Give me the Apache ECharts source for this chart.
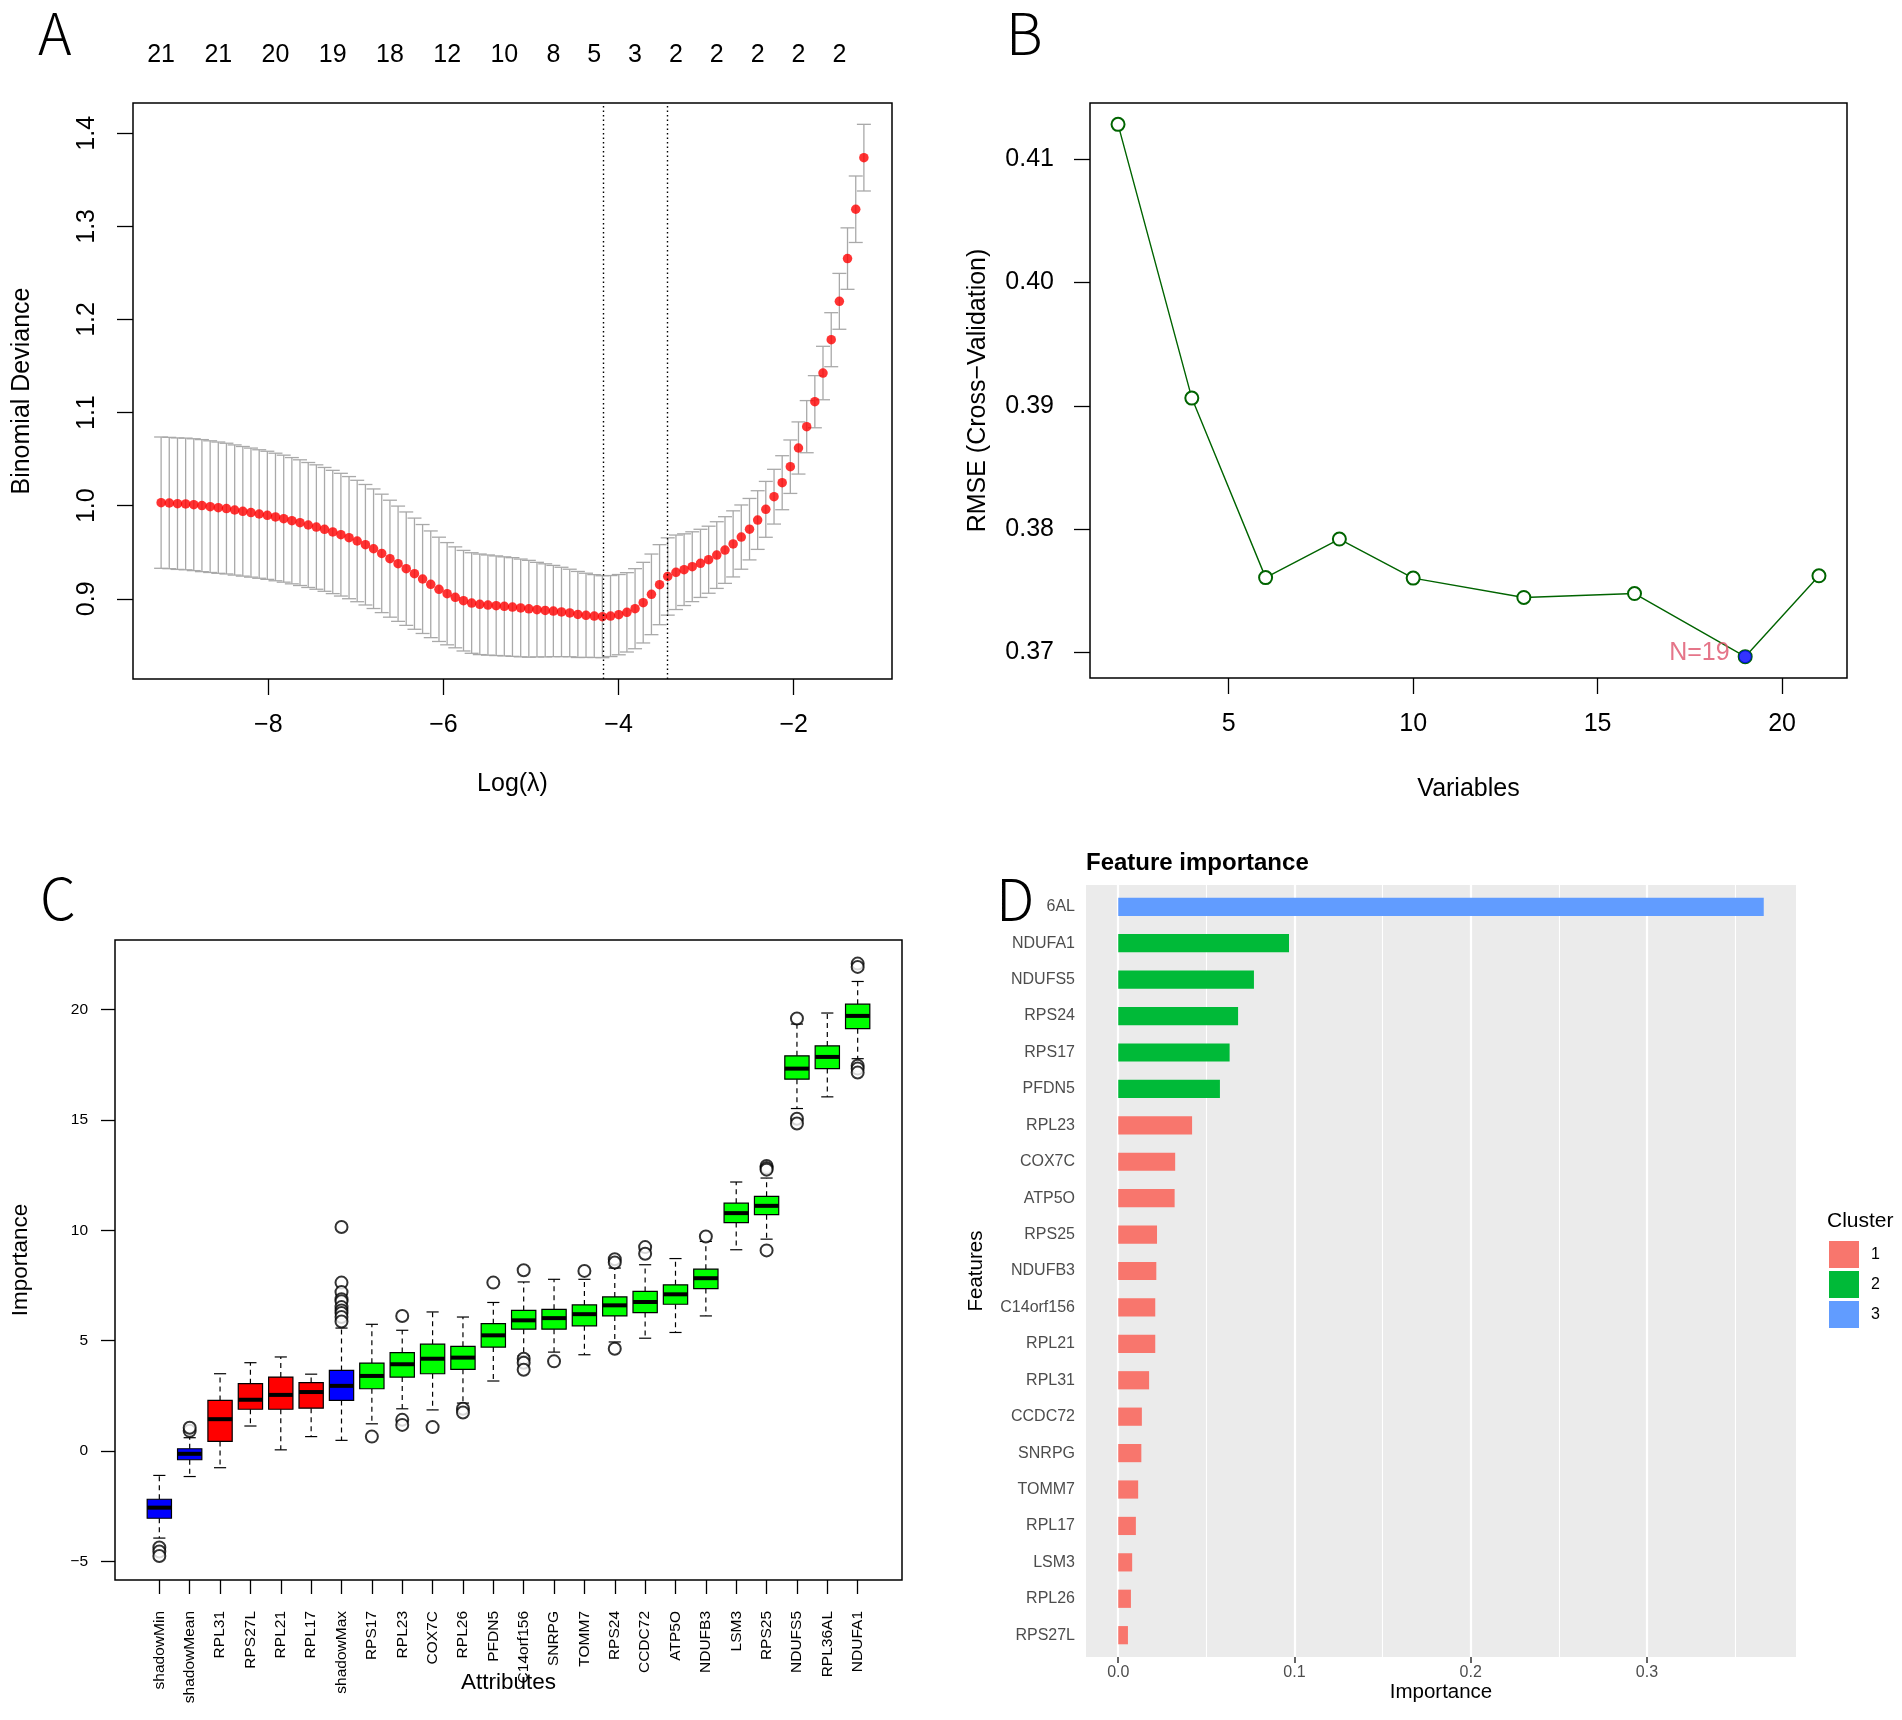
<!DOCTYPE html>
<html>
<head>
<meta charset="utf-8">
<title>Feature selection panels</title>
<script src="https://cdn.jsdelivr.net/npm/echarts@6.0.0/dist/echarts.min.js"></script>
<style>
  html, body { margin: 0; padding: 0; background: #fff; }
  #chart { width: 1902px; height: 1720px; }
</style>
</head>
<body>
<div id="chart"></div>
<script>
// ---- A: lasso cross-validation curve ----
var logLambda = [-9.224, -9.131, -9.037, -8.944, -8.851, -8.758, -8.664, -8.571, -8.478, -8.384,
  -8.291, -8.198, -8.104, -8.011, -7.918, -7.824, -7.731, -7.638, -7.544, -7.451,
  -7.358, -7.264, -7.171, -7.078, -6.985, -6.891, -6.798, -6.705, -6.611, -6.518,
  -6.425, -6.331, -6.238, -6.145, -6.051, -5.958, -5.865, -5.771, -5.678, -5.585,
  -5.492, -5.398, -5.305, -5.212, -5.118, -5.025, -4.932, -4.838, -4.745, -4.652,
  -4.558, -4.465, -4.372, -4.278, -4.185, -4.092, -3.998, -3.905, -3.812, -3.719,
  -3.625, -3.532, -3.439, -3.345, -3.252, -3.159, -3.065, -2.972, -2.879, -2.785,
  -2.692, -2.599, -2.505, -2.412, -2.319, -2.225, -2.132, -2.039, -1.946, -1.852,
  -1.759, -1.666, -1.572, -1.479, -1.386, -1.292, -1.199];
var cvMean = [1.0033, 1.0029, 1.0022, 1.0019, 1.0011, 1.0001, 0.9990, 0.9979, 0.9969, 0.9954,
  0.9940, 0.9926, 0.9911, 0.9897, 0.9879, 0.9861, 0.9839, 0.9818, 0.9793, 0.9771,
  0.9746, 0.9718, 0.9689, 0.9657, 0.9621, 0.9581, 0.9538, 0.9488, 0.9431, 0.9377,
  0.9324, 0.9270, 0.9213, 0.9156, 0.9102, 0.9055, 0.9016, 0.8980, 0.8955, 0.8941,
  0.8933, 0.8926, 0.8919, 0.8912, 0.8902, 0.8893, 0.8884, 0.8876, 0.8869, 0.8859,
  0.8848, 0.8832, 0.8823, 0.8815, 0.8808, 0.8815, 0.8830, 0.8855, 0.8894, 0.8959,
  0.9048, 0.9152, 0.9240, 0.9285, 0.9313, 0.9345, 0.9381, 0.9420, 0.9470, 0.9524,
  0.9590, 0.9663, 0.9748, 0.9846, 0.9961, 1.0097, 1.0247, 1.0419, 1.0620, 1.0849,
  1.1117, 1.1425, 1.1783, 1.2195, 1.2654, 1.3184, 1.3738];
var cvSd = [0.0705, 0.0705, 0.0706, 0.0707, 0.0708, 0.0709, 0.0707, 0.0705, 0.0702, 0.0699,
  0.0696, 0.0693, 0.0690, 0.0688, 0.0685, 0.0682, 0.0678, 0.0675, 0.0671, 0.0668,
  0.0665, 0.0662, 0.0659, 0.0656, 0.0652, 0.0647, 0.0642, 0.0636, 0.0628, 0.0619,
  0.0609, 0.0597, 0.0585, 0.0573, 0.0560, 0.0549, 0.0542, 0.0540, 0.0540, 0.0540,
  0.0538, 0.0535, 0.0532, 0.0530, 0.0525, 0.0520, 0.0508, 0.0500, 0.0490, 0.0480,
  0.0470, 0.0462, 0.0452, 0.0445, 0.0440, 0.0435, 0.0431, 0.0426, 0.0430, 0.0433,
  0.0433, 0.0430, 0.0415, 0.0400, 0.0385, 0.0375, 0.0366, 0.0360, 0.0358, 0.0358,
  0.0355, 0.0345, 0.0330, 0.0315, 0.0300, 0.0294, 0.0290, 0.0287, 0.0280, 0.0280,
  0.0280, 0.0287, 0.0290, 0.0300, 0.0330, 0.0357, 0.0358];
var nzAt = [-9.224, -8.571, -7.918, -7.264, -6.611, -5.958, -5.305, -4.745, -4.278, -3.812,
  -3.345, -2.879, -2.412, -1.946, -1.479];
var nzLabels = ['21', '21', '20', '19', '18', '12', '10', '8', '5', '3', '2', '2', '2', '2', '2'];
var lambdaMin = -4.185;
var lambda1se = -3.439;
var devTicks = [0.9, 1.0, 1.1, 1.2, 1.3, 1.4];
var lamTicks = [-8, -6, -4, -2];

// ---- B: recursive feature elimination ----
var rfeVars = [2, 4, 6, 8, 10, 13, 16, 19, 21];
var rfeRmse = [0.41283, 0.39063, 0.37607, 0.37920, 0.37603, 0.37446, 0.37478, 0.36966, 0.37622];
var rfeBest = 19;
var rmseTicks = [0.37, 0.38, 0.39, 0.40, 0.41];
var varTicks = [5, 10, 15, 20];

// ---- C: Boruta importance ----
var boxNames = ['shadowMin', 'shadowMean', 'RPL31', 'RPS27L', 'RPL21', 'RPL17', 'shadowMax', 'RPS17',
  'RPL23', 'COX7C', 'RPL26', 'PFDN5', 'C14orf156', 'SNRPG', 'TOMM7', 'RPS24', 'CCDC72', 'ATP5O',
  'NDUFB3', 'LSM3', 'RPS25', 'NDUFS5', 'RPL36AL', 'NDUFA1'];
var boxGroup = ['shadow', 'shadow', 'rejected', 'rejected', 'rejected', 'rejected', 'shadow',
  'confirmed', 'confirmed', 'confirmed', 'confirmed', 'confirmed', 'confirmed', 'confirmed',
  'confirmed', 'confirmed', 'confirmed', 'confirmed', 'confirmed', 'confirmed', 'confirmed',
  'confirmed', 'confirmed', 'confirmed'];
var boxMin = [-3.95, -1.16, -0.76, 1.13, 0.05, 0.65, 0.48, 1.23, 1.91, 1.86, 2.17, 3.17, 4.31, 4.48,
  4.36, 4.94, 5.11, 5.37, 6.12, 9.12, 9.60, 15.52, 16.05, 17.78];
var boxQ1 = [-3.05, -0.40, 0.43, 1.89, 1.89, 1.94, 2.29, 2.82, 3.35, 3.50, 3.70, 4.71, 5.52, 5.52,
  5.67, 6.12, 6.27, 6.65, 7.36, 10.35, 10.71, 16.85, 17.33, 19.14];
var boxMed = [-2.57, -0.13, 1.44, 2.32, 2.54, 2.67, 2.95, 3.40, 3.93, 4.18, 4.23, 5.24, 5.92, 6.02,
  6.20, 6.60, 6.75, 7.10, 7.83, 10.78, 11.11, 17.33, 17.86, 19.72];
var boxQ3 = [-2.19, 0.10, 2.29, 3.05, 3.35, 3.10, 3.65, 3.98, 4.46, 4.84, 4.74, 5.77, 6.37, 6.42,
  6.62, 6.98, 7.23, 7.53, 8.24, 11.23, 11.54, 17.91, 18.36, 20.25];
var boxMax = [-1.11, 0.60, 3.50, 4.00, 4.26, 3.48, 5.57, 5.74, 5.47, 6.30, 6.07, 6.73, 7.66, 7.78,
  7.78, 8.29, 8.44, 8.72, 9.50, 12.19, 12.37, 19.35, 19.85, 21.28];
var boxOut = [[-4.38, -4.56, -4.76], [0.91, 1.05], [], [], [], [],
  [10.15, 7.63, 7.20, 6.88, 6.78, 6.52, 6.37, 6.25, 6.07, 5.87], [0.65], [6.12, 1.41, 1.18], [1.08],
  [1.91, 1.74], [7.63], [8.19, 4.18, 4.00, 3.68], [4.06], [8.16], [8.69, 8.54, 4.63], [9.24, 8.94], [],
  [9.72], [], [12.92, 12.82, 12.75, 9.09], [19.60, 15.06, 14.84], [], [22.09, 21.94, 17.46, 17.33, 17.15]];
var impTicks = [-5, 0, 5, 10, 15, 20];

// ---- D: feature importance ----
var featNames = ['6AL', 'NDUFA1', 'NDUFS5', 'RPS24', 'RPS17', 'PFDN5', 'RPL23', 'COX7C', 'ATP5O',
  'RPS25', 'NDUFB3', 'C14orf156', 'RPL21', 'RPL31', 'CCDC72', 'SNRPG', 'TOMM7', 'RPL17', 'LSM3',
  'RPL26', 'RPS27L'];
var featImp = [0.3663, 0.0969, 0.0770, 0.0680, 0.0632, 0.0577, 0.0419, 0.0323, 0.0320, 0.0220,
  0.0216, 0.0210, 0.0210, 0.0175, 0.0134, 0.0131, 0.0113, 0.0100, 0.0079, 0.0072, 0.0055];
var featCluster = [3, 2, 2, 2, 2, 2, 1, 1, 1, 1, 1, 1, 1, 1, 1, 1, 1, 1, 1, 1, 1];
var featMajor = [0, 0.1, 0.2, 0.3];
var featMinor = [0.05, 0.15, 0.25, 0.35];

var FONT = 'Liberation Sans, Arial, sans-serif';
var groupColor = { shadow: '#0000FF', rejected: '#FF0000', confirmed: '#00FF00' };
var clusterColor = ['#F8766D', '#00BA38', '#619CFF'];

function minus(v) { return String(v).replace('-', '\u2212'); }

function nearestLabel(v) {
  var best = 0;
  for (var i = 1; i < nzAt.length; i++) {
    if (Math.abs(nzAt[i] - v) < Math.abs(nzAt[best] - v)) best = i;
  }
  return nzLabels[best];
}

function errorBar(params, api) {
  var x = api.value(0);
  var lo = api.coord([x, api.value(1)]);
  var hi = api.coord([x, api.value(2)]);
  var w = 7;
  var st = { stroke: '#A9A9A9', lineWidth: 1.3 };
  return {
    type: 'group',
    children: [
      { type: 'line', shape: { x1: lo[0], y1: lo[1], x2: hi[0], y2: hi[1] }, style: st },
      { type: 'line', shape: { x1: hi[0] - w, y1: hi[1], x2: hi[0] + w, y2: hi[1] }, style: st },
      { type: 'line', shape: { x1: lo[0] - w, y1: lo[1], x2: lo[0] + w, y2: lo[1] }, style: st }
    ]
  };
}

function boxItem(params, api) {
  var x = api.value(0);
  var half = api.size([0.4, 0])[0];
  var pMin = api.coord([x, api.value(1)]);
  var pQ1 = api.coord([x, api.value(2)]);
  var pMed = api.coord([x, api.value(3)]);
  var pQ3 = api.coord([x, api.value(4)]);
  var pMax = api.coord([x, api.value(5)]);
  var cx = pMed[0];
  var cap = half / 2;
  var dash = { stroke: '#000', lineWidth: 1.2, lineDash: [5, 4] };
  var solid = { stroke: '#000', lineWidth: 1.2 };
  return {
    type: 'group',
    children: [
      { type: 'line', shape: { x1: cx, y1: pQ3[1], x2: cx, y2: pMax[1] }, style: dash },
      { type: 'line', shape: { x1: cx, y1: pQ1[1], x2: cx, y2: pMin[1] }, style: dash },
      { type: 'line', shape: { x1: cx - cap, y1: pMax[1], x2: cx + cap, y2: pMax[1] }, style: solid },
      { type: 'line', shape: { x1: cx - cap, y1: pMin[1], x2: cx + cap, y2: pMin[1] }, style: solid },
      {
        type: 'rect',
        shape: { x: cx - half, y: pQ3[1], width: half * 2, height: pQ1[1] - pQ3[1] },
        style: { fill: groupColor[boxGroup[params.dataIndex]], stroke: '#000', lineWidth: 1.2 }
      },
      { type: 'line', shape: { x1: cx - half, y1: pMed[1], x2: cx + half, y2: pMed[1] },
        style: { stroke: '#000', lineWidth: 4 } }
    ]
  };
}

var errData = logLambda.map(function (x, i) { return [x, cvMean[i] - cvSd[i], cvMean[i] + cvSd[i]]; });
var cvData = logLambda.map(function (x, i) { return [x, cvMean[i]]; });
var rfeData = rfeVars.map(function (v, i) { return [v, rfeRmse[i]]; });
var boxData = boxNames.map(function (n, i) { return [i + 1, boxMin[i], boxQ1[i], boxMed[i], boxQ3[i], boxMax[i]]; });
var outData = [];
boxOut.forEach(function (list, i) { list.forEach(function (v) { outData.push([i + 1, v]); }); });

function rValueAxis(extra) {
  var base = {
    type: 'value',
    axisLine: { show: false, onZero: false },
    splitLine: { show: false },
    nameLocation: 'middle',
    nameMoveOverlap: false,
    nameTextStyle: { color: '#000', fontFamily: FONT, fontSize: 25 }
  };
  return Object.assign(base, extra);
}

var chart = echarts.init(document.getElementById('chart'), null, { renderer: 'canvas' });

var option = {
  backgroundColor: '#fff',
  animation: false,
  textStyle: { fontFamily: FONT },
  grid: [
    { left: 133, top: 103, width: 759, height: 576, show: true, borderColor: '#000', borderWidth: 1.5, outerBoundsMode: 'none' },
    { left: 1090, top: 103, width: 757, height: 575, show: true, borderColor: '#000', borderWidth: 1.5, outerBoundsMode: 'none' },
    { left: 115, top: 940, width: 787, height: 640, show: true, borderColor: '#000', borderWidth: 1.5, outerBoundsMode: 'none' },
    { left: 1086, top: 885, width: 710, height: 772, show: true, backgroundColor: '#EBEBEB', borderWidth: 0, outerBoundsMode: 'none' },
    { left: 1086, top: 888.6, width: 710, height: 764.8, show: false, outerBoundsMode: 'none' }
  ],
  xAxis: [
    rValueAxis({
      gridIndex: 0, min: -9.545, max: -0.878,
      axisTick: { length: 16, customValues: lamTicks, lineStyle: { color: '#000', width: 1.3 } },
      axisLabel: { customValues: lamTicks, formatter: minus, fontSize: 25, margin: 34, color: '#000', fontFamily: FONT },
      name: 'Log(\u03bb)', nameGap: 93
    }),
    rValueAxis({
      gridIndex: 0, position: 'top', min: -9.545, max: -0.878,
      axisTick: { show: false },
      axisLabel: { customValues: nzAt, formatter: nearestLabel, fontSize: 25, margin: 35, color: '#000', fontFamily: FONT }
    }),
    rValueAxis({
      gridIndex: 1, min: 1.24, max: 21.76,
      axisTick: { length: 16, customValues: varTicks, lineStyle: { color: '#000', width: 1.3 } },
      axisLabel: { customValues: varTicks, fontSize: 25, margin: 34, color: '#000', fontFamily: FONT },
      name: 'Variables', nameGap: 99
    }),
    rValueAxis({
      gridIndex: 2, min: -0.46, max: 25.46,
      axisTick: { length: 14, customValues: boxData.map(function (d) { return d[0]; }), lineStyle: { color: '#000', width: 1.3 } },
      axisLabel: {
        customValues: boxData.map(function (d) { return d[0]; }),
        formatter: function (v) { return boxNames[Math.round(v) - 1]; },
        rotate: 90, fontSize: 15.5, margin: 31, color: '#000', fontFamily: FONT
      },
      name: 'Attributes', nameGap: 91, nameTextStyle: { color: '#000', fontFamily: FONT, fontSize: 22.5 }
    }),
    {
      type: 'value', gridIndex: 3, min: -0.0183, max: 0.3846,
      axisLine: { show: false, onZero: false },
      axisTick: { customValues: featMajor, length: 6, lineStyle: { color: '#333', width: 1.5 } },
      axisLabel: { customValues: featMajor, formatter: function (v) { return v.toFixed(1); },
        fontSize: 16, margin: 8, color: '#4D4D4D', fontFamily: FONT },
      splitLine: { show: true, lineStyle: { color: '#FFFFFF', width: 2.2 } },
      name: 'Importance', nameLocation: 'middle', nameGap: 25, nameMoveOverlap: false,
      nameTextStyle: { color: '#000', fontFamily: FONT, fontSize: 20.5 }
    },
    {
      type: 'value', gridIndex: 4, min: -0.0183, max: 0.3846, show: false,
      axisLine: { onZero: false },
      splitLine: { show: false }
    },
    {
      type: 'value', gridIndex: 3, min: -0.0183, max: 0.3846,
      axisLine: { show: false, onZero: false },
      axisTick: { show: false, customValues: featMinor },
      axisLabel: { show: false },
      splitLine: { show: true, lineStyle: { color: '#FFFFFF', width: 1.1 } }
    }
  ],
  yAxis: [
    rValueAxis({
      gridIndex: 0, min: 0.8139, max: 1.4325,
      axisTick: { length: 16, customValues: devTicks, lineStyle: { color: '#000', width: 1.3 } },
      axisLabel: { customValues: devTicks, formatter: function (v) { return v.toFixed(1); },
        rotate: 90, fontSize: 25, margin: 33, color: '#000', fontFamily: FONT },
      name: 'Binomial Deviance', nameGap: 98
    }),
    rValueAxis({
      gridIndex: 1, min: 0.36793, max: 0.41456,
      axisTick: { length: 16, customValues: rmseTicks, lineStyle: { color: '#000', width: 1.3 } },
      axisLabel: { customValues: rmseTicks, formatter: function (v) { return v.toFixed(2); },
        fontSize: 25, margin: 36, color: '#000', fontFamily: FONT },
      name: 'RMSE (Cross\u2212Validation)', nameGap: 99
    }),
    rValueAxis({
      gridIndex: 2, min: -5.85, max: 23.16,
      axisTick: { length: 14, customValues: impTicks, lineStyle: { color: '#000', width: 1.3 } },
      axisLabel: { customValues: impTicks, formatter: minus, fontSize: 15.5, margin: 27, color: '#000', fontFamily: FONT },
      name: 'Importance', nameGap: 83, nameTextStyle: { color: '#000', fontFamily: FONT, fontSize: 22.5 }
    }),
    { type: 'value', gridIndex: 3, min: 0, max: 1, show: false, axisLine: { onZero: false }, splitLine: { show: false } },
    {
      type: 'category', gridIndex: 4, inverse: true, data: featNames,
      axisLine: { show: false, onZero: false },
      axisTick: { alignWithLabel: true, length: 6, lineStyle: { color: '#333', width: 1.5 } },
      axisLabel: { interval: 0, fontSize: 16, margin: 11, color: '#4D4D4D', fontFamily: FONT },
      name: 'Features', nameLocation: 'middle', nameGap: 99, nameMoveOverlap: false,
      nameTextStyle: { color: '#000', fontFamily: FONT, fontSize: 20.5 }
    }
  ],
  legend: {
    data: ['1', '2', '3'],
    orient: 'vertical', left: 1829, top: 1241, padding: 0,
    itemWidth: 30, itemHeight: 27, itemGap: 3, icon: 'rect',
    selectedMode: false,
    textStyle: { fontSize: 16, color: '#000', fontFamily: FONT, padding: [0, 0, 0, 7] }
  },
  graphic: [
    { type: 'text', style: { text: 'A', x: 38, y: 33, fill: '#000', font: '300 57px "Noto Sans CJK SC", sans-serif', textVerticalAlign: 'middle' } },
    { type: 'text', style: { text: 'B', x: 1006, y: 33, fill: '#000', font: '300 57px "Noto Sans CJK SC", sans-serif', textVerticalAlign: 'middle' } },
    { type: 'text', style: { text: 'C', x: 40, y: 898, fill: '#000', font: '300 57px "Noto Sans CJK SC", sans-serif', textVerticalAlign: 'middle' } },
    { type: 'text', style: { text: 'D', x: 996, y: 899, fill: '#000', font: '300 57px "Noto Sans CJK SC", sans-serif', textVerticalAlign: 'middle' } },
    { type: 'text', style: { text: 'Feature importance', x: 1086, y: 863, fill: '#000', font: 'bold 24px ' + FONT, textVerticalAlign: 'middle' } },
    { type: 'text', style: { text: 'Cluster', x: 1827, y: 1221, fill: '#000', font: '21px ' + FONT, textVerticalAlign: 'middle' } }
  ],
  series: [
    {
      type: 'custom', xAxisIndex: 0, yAxisIndex: 0, renderItem: errorBar,
      encode: { x: 0, y: [1, 2] }, data: errData, silent: true, z: 2
    },
    {
      type: 'scatter', xAxisIndex: 0, yAxisIndex: 0, data: cvData,
      symbol: 'circle', symbolSize: 9.5, itemStyle: { color: '#FF0000' }, silent: true, z: 3,
      markLine: {
        silent: true, symbol: ['none', 'none'], label: { show: false },
        lineStyle: { type: [1.5, 3], color: '#000', width: 1.4 },
        data: [{ xAxis: lambdaMin }, { xAxis: lambda1se }]
      }
    },
    {
      type: 'line', xAxisIndex: 2, yAxisIndex: 1, data: rfeData,
      symbol: 'emptyCircle', symbolSize: 13,
      lineStyle: { color: '#006400', width: 1.4 },
      itemStyle: { color: '#006400', borderWidth: 1.4 }, silent: true
    },
    {
      type: 'scatter', xAxisIndex: 2, yAxisIndex: 1,
      data: [[rfeBest, rfeRmse[rfeVars.indexOf(rfeBest)]]],
      symbol: 'circle', symbolSize: 13, itemStyle: { color: '#0000FF' }, z: 4, silent: true,
      label: { show: true, formatter: 'N=' + rfeBest, position: 'left', distance: 9, offset: [0, -4],
        color: '#DF536B', fontSize: 25, fontFamily: FONT }
    },
    {
      type: 'custom', xAxisIndex: 3, yAxisIndex: 2, renderItem: boxItem,
      encode: { x: 0, y: [1, 2, 3, 4, 5] }, data: boxData, silent: true
    },
    {
      type: 'scatter', xAxisIndex: 3, yAxisIndex: 2, data: outData,
      symbol: 'emptyCircle', symbolSize: 12,
      itemStyle: { color: '#000', borderColor: '#000', borderWidth: 1.2 }, silent: true
    }
  ].concat([1, 2, 3].map(function (c) {
    return {
      type: 'bar', name: String(c), xAxisIndex: 5, yAxisIndex: 4, stack: 'cluster',
      barWidth: '50%', itemStyle: { color: clusterColor[c - 1] }, silent: true,
      data: featImp.map(function (v, i) { return featCluster[i] === c ? v : '-'; })
    };
  }))
};

chart.setOption(option);
</script>
</body>
</html>
